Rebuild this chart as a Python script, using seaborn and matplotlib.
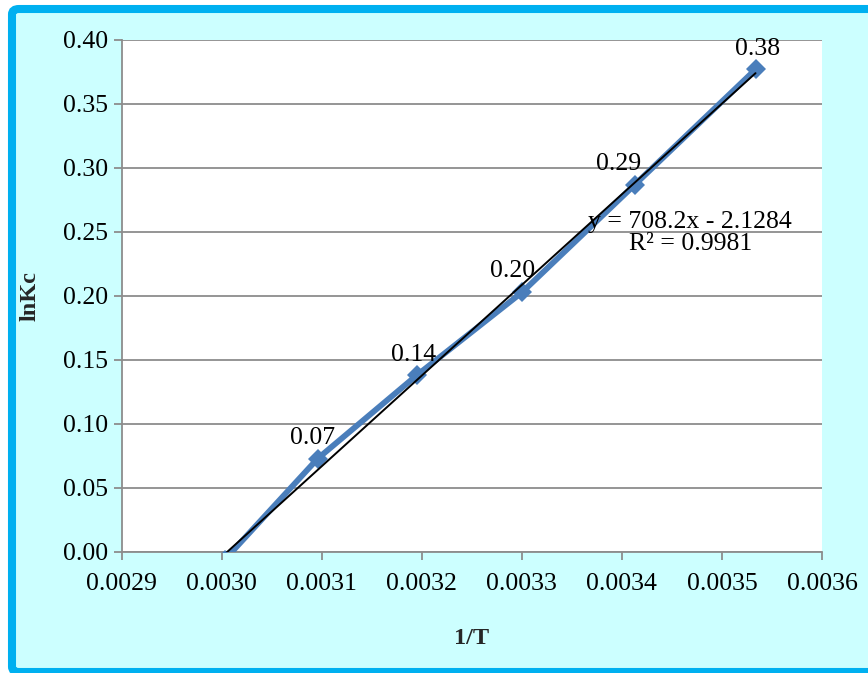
import matplotlib
matplotlib.use("Agg")
import matplotlib.pyplot as plt
from matplotlib.patches import FancyBboxPatch
import numpy as np
import pandas as pd
import seaborn as sns

# Equilibrium data: inverse temperature and ln of the equilibrium constant
inv_T = [1 / 333, 1 / 323, 1 / 313, 1 / 303, 1 / 293, 1 / 283]
ln_kc = [-0.006, 0.073, 0.138, 0.203, 0.287, 0.377]
point_labels = ["", "0.07", "0.14", "0.20", "0.29", "0.38"]
# horizontal nudge (points) of each data label
label_dx = [0, -4, -2, -7, -11.5, 1.5]

# Linear trend line coefficients
slope = 708.2
intercept = -2.1284
r_squared = 0.9981

x_ticks = [0.0029, 0.0030, 0.0031, 0.0032, 0.0033, 0.0034, 0.0035, 0.0036]
y_ticks = [0.00, 0.05, 0.10, 0.15, 0.20, 0.25, 0.30, 0.35, 0.40]

sns.set_theme(style="white")
plt.rcParams["font.family"] = ["Liberation Serif", "DejaVu Serif"]

FS = 18.5
W, H = 868, 673

fig = plt.figure(figsize=(W / 100, H / 100), dpi=100)
fig.patch.set_facecolor("white")

# Cyan chart area with a thick rounded blue border (runs past the right edge)
frame = FancyBboxPatch((12 / W, 1 / H), (W + 20) / W, (H - 10) / H,
                       boxstyle="round,pad=0,rounding_size=0.008",
                       transform=fig.transFigure, facecolor="#CCFFFF",
                       edgecolor="#00B0F0", linewidth=5.8, zorder=-10)
fig.patches.append(frame)

ax = fig.add_axes([0.1402, 0.1798, 0.8068, 0.7608])
ax.set_zorder(1)
ax.set_facecolor("white")

df = pd.DataFrame({"inv_T": inv_T, "ln_kc": ln_kc})
sns.lineplot(data=df, x="inv_T", y="ln_kc", ax=ax, color="#4A7EBB",
             linewidth=4.2, marker="D", markersize=10, markeredgewidth=0,
             zorder=3, sort=False)

# Trend line over the data range
xt = np.array([min(inv_T), max(inv_T)])
ax.plot(xt, slope * xt + intercept, color="black", linewidth=1.4, zorder=4)

for x, y, lab, dx in zip(inv_T, ln_kc, point_labels, label_dx):
    if lab:
        ax.annotate(lab, (x, y), xytext=(dx, 7), textcoords="offset points",
                    ha="center", va="bottom", fontsize=FS, color="black",
                    zorder=5)

ax.text(0.0034683, 0.232, f"y = {slope}x - {abs(intercept)}\nR² = {r_squared}",
        ha="center", va="bottom", fontsize=FS, color="black",
        linespacing=1.0, zorder=5)

ax.set_xlim(0.0029, 0.0036)
ax.set_ylim(0.0, 0.40)
ax.set_xticks(x_ticks)
ax.set_yticks(y_ticks)
ax.set_xticklabels([f"{v:.4f}" for v in x_ticks])
ax.set_yticklabels([f"{v:.2f}" for v in y_ticks])

ax.yaxis.grid(True, color="#8C8C8C", linewidth=1.3)
ax.xaxis.grid(False)
ax.set_axisbelow(True)

for side in ["top", "right"]:
    ax.spines[side].set_visible(False)
for side in ["left", "bottom"]:
    ax.spines[side].set_visible(True)
    ax.spines[side].set_color("#8C8C8C")
    ax.spines[side].set_linewidth(1.3)

ax.tick_params(axis="both", which="major", direction="out", length=6,
               width=1.3, color="#8C8C8C", labelsize=FS, labelcolor="black",
               left=True, bottom=True)
ax.tick_params(axis="x", pad=9)
ax.tick_params(axis="y", pad=4)

ax.set_xlabel("1/T", fontsize=17.5, fontweight="bold", labelpad=24)
ax.set_ylabel("lnKc", fontsize=17.5, fontweight="bold", labelpad=16)

fig.savefig("out.png", dpi=100, facecolor=fig.get_facecolor())
